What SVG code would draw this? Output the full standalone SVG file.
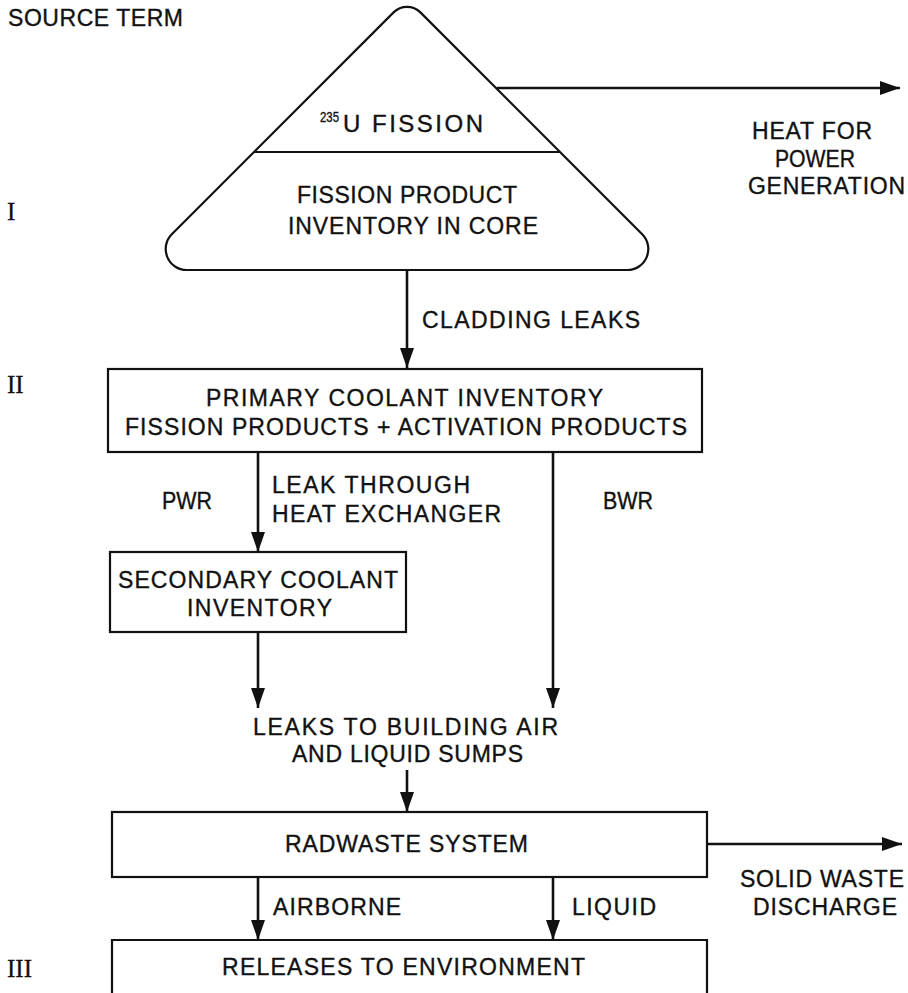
<svg xmlns="http://www.w3.org/2000/svg" width="908" height="993" viewBox="0 0 908 993">
<defs>
<style>
.t{font-family:"Liberation Sans",Arial,sans-serif;font-size:23px;fill:#111;stroke:#111;stroke-width:0.35;}
.r{font-family:"Liberation Serif","Times New Roman",serif;font-size:25px;fill:#111;stroke:#111;stroke-width:0.3;}
.box{fill:#fff;stroke:#111;stroke-width:2.2;}
.ln{fill:none;stroke:#111;stroke-width:2.6;}
</style>
<marker id="ah" markerUnits="userSpaceOnUse" markerWidth="20" markerHeight="14" refX="20" refY="7" orient="auto">
<path d="M0,0 L20,7 L0,14 Z" fill="#111"/>
</marker>
</defs>
<rect width="908" height="993" fill="#fff"/>

<g id="labels">
<text class="t" x="8" y="26" textLength="175" lengthAdjust="spacing">SOURCE TERM</text>
<text class="r" x="7" y="220">I</text>
<text class="r" x="7" y="393">II</text>
<text class="r" x="7" y="977">III</text>
</g>

<g id="connectors">
<path class="ln" d="M497,88 H900" marker-end="url(#ah)"/>
<path class="ln" d="M407,271 V368" marker-end="url(#ah)"/>
<path class="ln" d="M258,453 V552" marker-end="url(#ah)"/>
<path class="ln" d="M258,633 V708" marker-end="url(#ah)"/>
<path class="ln" d="M553,453 V708" marker-end="url(#ah)"/>
<path class="ln" d="M407,770 V812" marker-end="url(#ah)"/>
<path class="ln" d="M708,844 H902" marker-end="url(#ah)"/>
<path class="ln" d="M258,878 V940" marker-end="url(#ah)"/>
<path class="ln" d="M553,878 V940" marker-end="url(#ah)"/>
</g>

<g id="core">
<path class="box" d="M420.4,12.4 L642.2,234.2 A21,21 0 0 1 627.3,270 L186.7,270 A21,21 0 0 1 171.8,234.2 L393.6,12.4 A19,19 0 0 1 420.4,12.4 Z"/>
<line x1="254" y1="152" x2="560" y2="152" stroke="#111" stroke-width="2"/>
<text class="t" x="320" y="132"><tspan font-size="14" dy="-10" textLength="19" lengthAdjust="spacingAndGlyphs">235</tspan><tspan dy="10" x="343" font-size="24" textLength="140" lengthAdjust="spacing">U FISSION</tspan></text>
<text class="t" x="297" y="203" textLength="220" lengthAdjust="spacing">FISSION PRODUCT</text>
<text class="t" x="288" y="234" textLength="250" lengthAdjust="spacing">INVENTORY IN CORE</text>
</g>

<g id="heat">
<text class="t" x="752" y="139" textLength="120" lengthAdjust="spacing">HEAT FOR</text>
<text class="t" x="775" y="167" textLength="80" lengthAdjust="spacingAndGlyphs">POWER</text>
<text class="t" x="748" y="194" textLength="157" lengthAdjust="spacing">GENERATION</text>
</g>

<g id="cladding">
<text class="t" x="422" y="328" textLength="218" lengthAdjust="spacing">CLADDING LEAKS</text>
</g>

<g id="primary">
<rect class="box" x="108" y="369" width="594" height="83"/>
<text class="t" x="206" y="406" textLength="397" lengthAdjust="spacing">PRIMARY COOLANT INVENTORY</text>
<text class="t" x="125" y="435" textLength="562" lengthAdjust="spacing">FISSION PRODUCTS + ACTIVATION PRODUCTS</text>
</g>

<g id="pwr-label">
<text class="t" x="162" y="509" font-size="22" textLength="50" lengthAdjust="spacingAndGlyphs">PWR</text>
<text class="t" x="272" y="493" textLength="198" lengthAdjust="spacing">LEAK THROUGH</text>
<text class="t" x="272" y="522" textLength="229" lengthAdjust="spacing">HEAT EXCHANGER</text>
</g>

<g id="bwr-label">
<text class="t" x="603" y="509" font-size="22" textLength="50" lengthAdjust="spacingAndGlyphs">BWR</text>
</g>

<g id="secondary">
<rect class="box" x="110" y="552" width="296" height="80"/>
<text class="t" x="118" y="588" textLength="280" lengthAdjust="spacing">SECONDARY COOLANT</text>
<text class="t" x="187" y="616" textLength="145" lengthAdjust="spacing">INVENTORY</text>
</g>

<g id="leaks">
<text class="t" x="253" y="735" textLength="305" lengthAdjust="spacing">LEAKS TO BUILDING AIR</text>
<text class="t" x="292" y="762" textLength="231" lengthAdjust="spacing">AND LIQUID SUMPS</text>
</g>

<g id="radwaste">
<rect class="box" x="112" y="812" width="595" height="65"/>
<text class="t" x="285" y="852" textLength="243" lengthAdjust="spacing">RADWASTE SYSTEM</text>
</g>

<g id="solid">
<text class="t" x="740" y="887" textLength="164" lengthAdjust="spacing">SOLID WASTE</text>
<text class="t" x="753" y="915" textLength="144" lengthAdjust="spacing">DISCHARGE</text>
</g>

<g id="flow-labels">
<text class="t" x="273" y="915" textLength="128" lengthAdjust="spacing">AIRBORNE</text>
<text class="t" x="572" y="915" textLength="84" lengthAdjust="spacing">LIQUID</text>
</g>

<g id="releases">
<path class="box" d="M112,1000 V940 H707 V1000"/>
<text class="t" x="222" y="975" textLength="363" lengthAdjust="spacing">RELEASES TO ENVIRONMENT</text>
</g>
</svg>
